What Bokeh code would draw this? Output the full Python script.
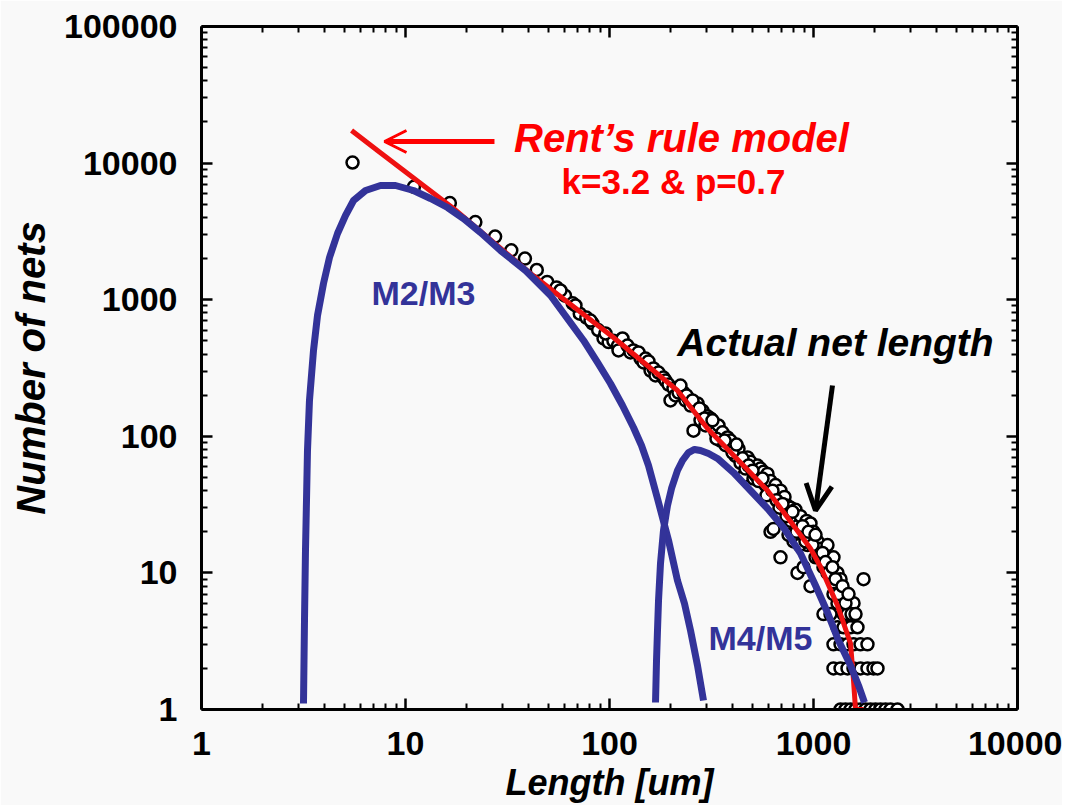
from bokeh.plotting import figure
from bokeh.models import (Label, Arrow, OpenHead, LogAxis, FixedTicker,
                          ColumnDataSource, CustomJSTickFormatter)
from bokeh.embed import file_html
from bokeh.resources import INLINE

# ---------------- data ----------------
# Actual net length: (length [um], number of nets)
net_length = [5.5, 11, 16.5, 22, 27.5, 33, 38.5, 44, 49.5, 55, 60.5, 66, 71.5, 77,
              82.5, 88, 93.5, 99, 104.5, 110,
              57.5, 68.1, 80.7, 95.6, 110.7, 141.9, 158.9,
              115.8, 122.5, 126.7, 131.1, 138.8, 146.8, 150.2, 155.3, 164.3, 168.1,
              173.9, 183.9, 188.2, 194.7, 199.1, 205.9, 210.6, 217.9, 230.5, 235.8,
              243.9, 249.6, 258.1, 270.0, 279.3, 285.7, 295.6, 302.2, 312.7, 323.4,
              330.8, 342.2, 350.1, 358.0, 370.5, 378.8, 391.8, 405.3, 414.6, 429.0,
              438.7, 453.8, 464.2, 474.8, 491.1, 508.1, 519.6, 531.5, 549.8, 568.7,
              581.8, 595.0, 615.6, 615.6, 636.8, 651.3, 666.1, 689.0, 689.0, 712.8,
              720.8, 745.6, 771.5, 771.5, 798.0, 816.2, 835.0, 835.0, 863.6, 893.3,
              893.3, 924.1, 934.6, 966.7, 966.7, 1000, 1023, 1046, 1082, 1119,
              1119, 1171, 1171, 1211, 1253, 1253, 1311, 1311, 1357, 1403,
              1403, 1468, 1468, 1519, 1571, 1759,
              222.8, 238.5, 255.3, 276.2, 292.3, 319.8, 334.6, 366.3, 400.8, 419.4,
              448.7, 480.3, 502.4, 537.6, 562.3, 588.3, 629.5, 658.7, 681.4, 704.7,
              737.3, 754.3, 788.9, 825.4, 854.0, 883.4, 913.6, 945.0, 989.0, 1023,
              1058, 1107, 1145, 1184, 1239, 1282, 1326, 1388, 1435, 1485,
              1536, 1607, 1211,
              1311, 1403, 1519, 1643,
              1253, 1357, 1468, 1571, 1700, 1839,
              1253, 1357, 1468, 1571, 1700, 1839, 1969, 2059,
              1357, 1435, 1519, 1607, 1700, 1798, 1903, 2013, 2130, 2254, 2385, 2581]
net_count = [10100, 6700, 5100, 3700, 2900, 2300, 2000, 1650, 1350, 1230, 1070, 940, 790, 740,
             670, 600, 520, 490, 500, 460,
             1168, 907, 704, 566, 425, 371, 303,
             520, 462, 411, 425, 411, 347, 371, 353, 314, 279,
             293, 269, 256, 239, 183, 224, 199, 209, 209, 183,
             189, 168, 110, 174, 131, 154, 120, 140, 135, 116,
             107, 120, 93, 107, 86, 98, 93, 84, 72, 81,
             64, 51, 58, 70, 65, 49, 52, 61, 58, 55,
             44, 53, 47, 20, 21, 44, 37, 40, 13, 33,
             36, 31, 30, 24, 17, 29, 10, 22, 26, 11,
             19, 24, 16, 23, 8, 20, 13, 17, 15, 5,
             11, 16, 10, 12, 13, 7, 10, 6, 9, 7,
             5, 7, 5, 6, 6, 9,
             235, 199, 183, 160, 135, 131, 96, 93, 76, 87,
             69, 61, 56, 47, 49, 37, 40, 34, 30, 32,
             26, 19, 28, 20, 16, 22, 17, 20, 16, 19,
             13, 14, 12, 10, 11, 9, 7, 8, 6, 7,
             5, 5, 5,
             4, 4, 4, 4,
             3, 3, 3, 3, 3, 3,
             2, 2, 2, 2, 2, 2, 2, 2,
             1, 1, 1, 1, 1, 1, 1, 1, 1, 1, 1, 1]

# Rent's rule model (k=3.2, p=0.7)
rent_length = [5.44, 7.29, 17.19, 41.0, 104.6, 215.4, 302.2, 438.7, 595.0, 798.0,
               966.7, 1082, 1311, 1519, 1571, 1607, 1759]
rent_count = [17320, 12370, 4653, 1555, 529, 216.4, 114, 64.3, 40.1, 22.2,
              15.1, 11.1, 5.77, 3.04, 1.63, 1.0, 1.0]

# M2/M3 distribution
m23_length = [3.162, 3.198, 3.234, 3.271, 3.308, 3.383, 3.540, 3.704, 3.963, 4.241,
              4.642, 5.08, 5.563, 6.37, 7.54, 8.93, 10.94, 13.26, 16.07, 19.24,
              23.32, 29.22, 38.75, 51.4, 74.6, 87.35, 101.1, 115.8, 131.1, 143.5,
              155.3, 171.9, 194.7, 215.4, 233.1, 249.6, 270.0, 288.9]
m23_count = [1.106, 4.48, 14.6, 33.9, 78.7, 183, 424.7, 766, 1314, 2037,
             3052, 4134, 5323, 6301, 6855, 6855, 6301, 5505, 4731, 3930,
             3104, 2291, 1636, 1073, 503, 347, 243.5, 168, 116, 85.6,
             61.1, 35.0, 17.3, 8.80, 5.97, 3.79, 2.10, 1.164]

# M4/M5 distribution
m45_length = [168.1, 170.0, 171.9, 173.9, 177.8, 183.9, 192.4, 201.4, 215.4, 228.0,
              243.9, 261.0, 279.3, 305.7, 338.3, 405.3, 491.1, 595.0, 712.8, 863.6,
              1023, 1171, 1326, 1519, 1662, 1778]
m45_count = [1.125, 2.28, 3.79, 6.28, 11.7, 20.4, 31.1, 41.5, 56.2, 66.5,
             76.1, 80.1, 78.7, 74.8, 68.8, 54.3, 40.1, 29.6, 21.5, 13.9,
             8.09, 5.13, 3.20, 2.10, 1.50, 1.125]

x_ticks = [1, 10, 100, 1000, 10000]
x_tick_labels = ["1", "10", "100", "1000", "10000"]
y_ticks = [1, 10, 100, 1000, 10000, 100000]
y_tick_labels = ["1", "10", "100", "1000", "10000", "100000"]

# ---------------- figure ----------------
FONT = "Liberation Sans"
NAVY = "#333399"
BG = "#f9f9f9"

p = figure(frame_width=816, frame_height=683, x_axis_type="log", y_axis_type="log",
           x_range=(1, 10000), y_range=(1, 100000),
           output_backend="svg", toolbar_location=None,
           min_border_left=201, min_border_right=45, min_border_top=26,
           min_border_bottom=92,
           background_fill_color=BG, border_fill_color=BG, outline_line_color=None)
p.grid.visible = False

x_minor = [m * 10 ** e for e in range(0, 4) for m in range(2, 10)]
y_minor = [m * 10 ** e for e in range(0, 5) for m in range(2, 10)]


def style_axis(ax):
    ax.axis_line_width = 3
    ax.axis_line_color = "black"
    ax.major_tick_in = 11
    ax.major_tick_out = 0
    ax.minor_tick_in = 6
    ax.minor_tick_out = 0
    ax.major_tick_line_width = 2.5
    ax.minor_tick_line_width = 2
    ax.major_label_text_font = FONT
    ax.major_label_text_font_style = "bold"
    ax.major_label_text_font_size = "34px"
    ax.major_label_text_color = "black"
    ax.axis_label_text_font = FONT
    ax.axis_label_text_font_style = "bold italic"
    ax.axis_label_text_color = "black"


xa = p.xaxis[0]
xa.ticker = FixedTicker(ticks=x_ticks, minor_ticks=x_minor)
xa.major_label_overrides = dict(zip(x_ticks, x_tick_labels))
style_axis(xa)
xa.major_label_standoff = 22
xa.axis_label = "Length [um]"
xa.axis_label_text_font_size = "36px"
xa.axis_label_standoff = 4

ya = p.yaxis[0]
ya.ticker = FixedTicker(ticks=y_ticks, minor_ticks=y_minor)
ya.major_label_overrides = dict(zip(y_ticks, y_tick_labels))
style_axis(ya)
ya.major_label_standoff = 24
ya.axis_label = "Number of nets"
ya.axis_label_text_font_size = "40px"
ya.axis_label_standoff = 8

blank = CustomJSTickFormatter(code="return '';")
top = LogAxis(ticker=FixedTicker(ticks=x_ticks, minor_ticks=x_minor), formatter=blank)
style_axis(top)
p.add_layout(top, "above")
right = LogAxis(ticker=FixedTicker(ticks=y_ticks, minor_ticks=y_minor), formatter=blank)
style_axis(right)
p.add_layout(right, "right")

# scatter: actual net length
src = ColumnDataSource(dict(x=net_length, y=net_count))
p.scatter("x", "y", source=src, size=12, fill_color="white", line_color="black",
          line_width=2.5)

# Rent's rule model
p.line(rent_length, rent_count, line_color="#ee1111", line_width=5, line_join="round")

# M2/M3 and M4/M5
p.line(m23_length, m23_count, line_color=NAVY, line_width=7, line_join="round")
p.line(m45_length, m45_count, line_color=NAVY, line_width=7, line_join="round")

# annotations
p.add_layout(Label(x=225.4, y=15395, text="Rent\u2019s rule model", text_align="center",
                   text_baseline="middle", text_font=FONT, text_font_size="40px",
                   text_font_style="bold italic", text_color="red"))
p.add_layout(Label(x=205.9, y=7334, text="k=3.2 & p=0.7", text_align="center",
                   text_baseline="middle", text_font=FONT, text_font_size="35px",
                   text_font_style="bold", text_color="red"))
p.add_layout(Label(x=12.25, y=1129, text="M2/M3", text_align="center",
                   text_baseline="middle", text_font=FONT, text_font_size="34px",
                   text_font_style="bold", text_color=NAVY))
p.add_layout(Label(x=549.8, y=3.31, text="M4/M5", text_align="center",
                   text_baseline="middle", text_font=FONT, text_font_size="34px",
                   text_font_style="bold", text_color=NAVY))
p.add_layout(Label(x=1282, y=486, text="Actual net length", text_align="center",
                   text_baseline="middle", text_font=FONT, text_font_size="39px",
                   text_font_style="bold italic", text_color="black"))

p.add_layout(Arrow(end=OpenHead(size=22, line_color="red", line_width=3),
                   x_start=27.3, y_start=14390, x_end=7.89, y_end=14390,
                   line_color="red", line_width=5))
p.add_layout(Arrow(end=OpenHead(size=26, line_color="black", line_width=5),
                   x_start=1239, y_start=235.4, x_end=1023, y_end=28.6,
                   line_color="black", line_width=5))

open("out.html", "w").write(file_html(p, INLINE))
